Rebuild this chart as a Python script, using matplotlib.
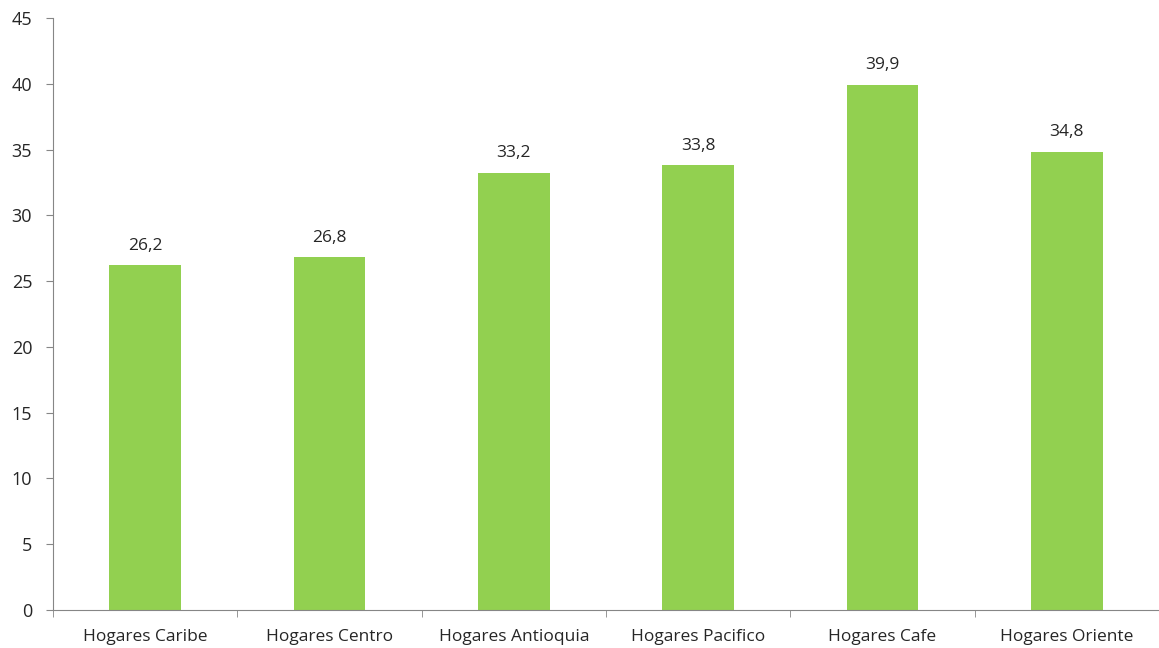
import numpy as np
import matplotlib.pyplot as plt

categories = ['Hogares Caribe', 'Hogares Centro', 'Hogares Antioquia',
              'Hogares Pacifico', 'Hogares Cafe', 'Hogares Oriente']
values = [26.2, 26.8, 33.2, 33.8, 39.9, 34.8]
labels = ['26,2', '26,8', '33,2', '33,8', '39,9', '34,8']

green = '#92d050'
grey = '#868686'
text_col = '#262626'

plt.rcParams['font.family'] = ['Open Sans', 'DejaVu Sans']

fig = plt.figure(figsize=(11.59, 6.48), dpi=100)
ax = fig.add_axes([0.0457, 0.0586, 0.9543, 0.9136])

x = np.arange(len(categories))
ax.bar(x, values, width=0.39, color=green)
for xi, v, lab in zip(x, values, labels):
    ax.text(xi, v + 0.9, lab, ha='center', va='bottom', fontsize=12.5, color=text_col)

ax.set_xlim(-0.5, len(categories) - 0.5)
ax.set_ylim(0, 45)
ax.set_yticks(range(0, 46, 5))
ax.set_xticks(x)
ax.set_xticklabels(categories)
ax.set_xticks(np.arange(-0.5, len(categories), 1.0), minor=True)

for s in ['top', 'right']:
    ax.spines[s].set_visible(False)
for s in ['left', 'bottom']:
    ax.spines[s].set_color(grey)

ax.tick_params(axis='y', direction='out', length=5, color=grey, labelsize=13,
               labelcolor=text_col, pad=10)
ax.tick_params(axis='x', which='major', length=0, labelsize=12.5,
               labelcolor=text_col, pad=14)
ax.tick_params(axis='x', which='minor', direction='out', length=5, color=grey)

fig.savefig('out.png', dpi=100)
